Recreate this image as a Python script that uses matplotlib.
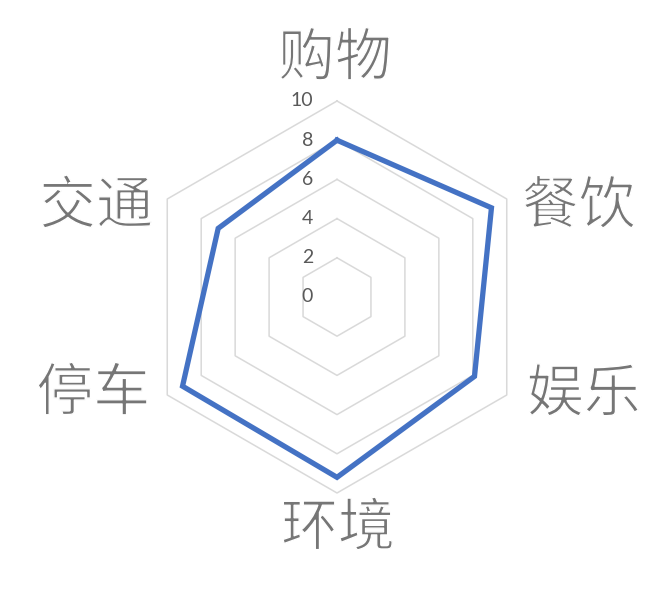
import numpy as np
import matplotlib
matplotlib.use("Agg")
import matplotlib.pyplot as plt
import matplotlib.patheffects as pe

plt.rcParams['font.family'] = ['Noto Sans CJK SC', 'DejaVu Sans']

categories = ['购物', '餐饮', '娱乐', '环境', '停车', '交通']
values = [8.0, 9.1, 8.1, 9.2, 9.1, 7.0]
ring_levels = [2, 4, 6, 8, 10]
tick_labels = ['0', '2', '4', '6', '8', '10']

# angles clockwise from the top
n = len(categories)
angles = np.pi / 2 - np.arange(n) * 2 * np.pi / n

def to_xy(r, ang):
    return r * np.cos(ang), r * np.sin(ang)

W, H = 668, 597
cx, cy = 337, 297      # centre in pixels (from top)
scale = 19.6           # pixels per unit

fig = plt.figure(figsize=(W / 100, H / 100), dpi=100)
ax = fig.add_axes([0, 0, 1, 1])
ax.set_xlim(-cx / scale, (W - cx) / scale)
ax.set_ylim(-(H - cy) / scale, cy / scale)
ax.axis('off')

# hexagon grid
for lev in ring_levels:
    x, y = to_xy(lev, np.append(angles, angles[0]))
    ax.plot(x, y, color='#d9d9d9', lw=1.1, zorder=1)

# data polygon
vals = np.array(values + values[:1])
x, y = to_xy(vals, np.append(angles, angles[0]))
ax.plot(x, y, color='#4472c4', lw=3.8, solid_joinstyle='miter', zorder=3)

# radial tick labels
for i, lab in enumerate(tick_labels):
    ax.text(-24 / scale, i * 2, lab, ha='right', va='center',
            fontsize=14, color='#595959', family=['Lato', 'DejaVu Sans'])

# category labels (white outline on top thins the strokes a bit)
thin = [pe.Normal(), pe.Stroke(linewidth=1.0, foreground='white')]
offsets = [(-2, 42, 'center', 'center'),
           (15, -8, 'left', 'center'),
           (20, 0, 'left', 'center'),
           (1, -36, 'center', 'center'),
           (-17, 1, 'right', 'center'),
           (-14, -8, 'right', 'center')]
for cat, ang, (dx, dy, ha, va) in zip(categories, angles, offsets):
    x0, y0 = to_xy(10, ang)
    ax.text(x0 + dx / scale, y0 + dy / scale, cat, ha=ha, va=va,
            fontsize=41, color='#767676', path_effects=thin)

fig.savefig('out.png', dpi=100, facecolor='white')
